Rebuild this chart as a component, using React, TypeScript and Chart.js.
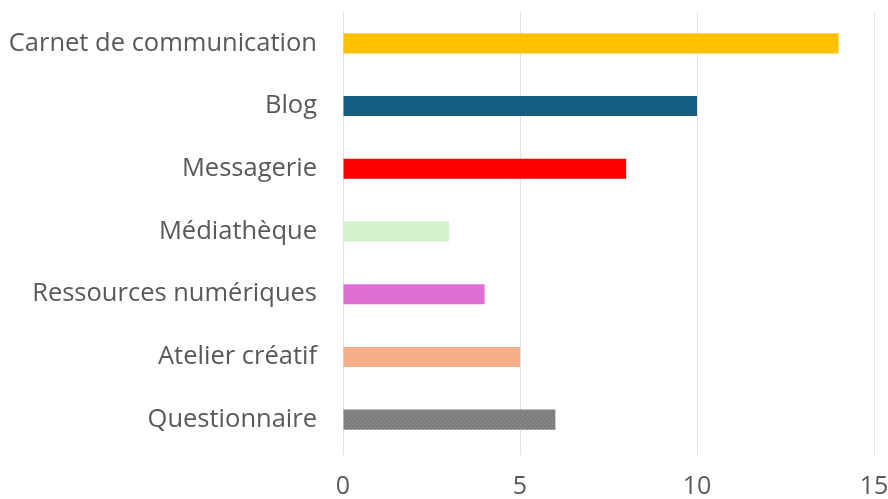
import React, { useEffect, useRef } from "react";
import { Chart, registerables } from "chart.js";

Chart.register(...registerables);

const categories = [
  "Carnet de communication",
  "Blog",
  "Messagerie",
  "Médiathèque",
  "Ressources numériques",
  "Atelier créatif",
  "Questionnaire",
];
const values = [14, 10, 8, 3, 4, 5, 6];
const xTicks = [0, 5, 10, 15];
const barColors = ["#FFC000", "#156082", "#FF0000", "#D6F5CE", "#E06FD4", "#F6AD88", "#7F7F7F"];
const patterned = [false, false, false, true, false, true, true];

function makePattern(base: string): CanvasPattern | string {
  const c = document.createElement("canvas");
  c.width = 4;
  c.height = 4;
  const ctx = c.getContext("2d");
  if (!ctx) return base;
  ctx.fillStyle = base;
  ctx.fillRect(0, 0, 4, 4);
  ctx.fillStyle = "rgba(255,255,255,0.18)";
  ctx.fillRect(0, 0, 1, 1);
  ctx.fillRect(2, 2, 1, 1);
  ctx.fillStyle = "rgba(0,0,0,0.05)";
  ctx.fillRect(2, 0, 1, 1);
  ctx.fillRect(0, 2, 1, 1);
  const p = ctx.createPattern(c, "repeat");
  return p || base;
}

const FONT = "'Open Sans', 'Noto Sans', sans-serif";

export default function App() {
  const ref = useRef<HTMLCanvasElement | null>(null);
  useEffect(() => {
    if (!ref.current) return;
    const fills = barColors.map((col, i) => (patterned[i] ? makePattern(col) : col));
    const chart = new Chart(ref.current, {
      type: "bar",
      data: {
        labels: categories,
        datasets: [
          {
            data: values,
            backgroundColor: fills as any,
            borderWidth: 0,
            barPercentage: 0.32,
            categoryPercentage: 1,
          },
        ],
      },
      options: {
        indexAxis: "y",
        animation: false,
        responsive: false,
        maintainAspectRatio: false,
        layout: { padding: { top: 12, right: 14, left: 0, bottom: 0 } },
        plugins: { legend: { display: false }, tooltip: { enabled: false } },
        scales: {
          x: {
            min: 0,
            max: 15,
            afterBuildTicks: (scale: any) => {
              scale.ticks = xTicks.map((v) => ({ value: v }));
            },
            afterFit: (scale: any) => {
              scale.height = 48;
              scale.paddingLeft = 0;
              scale.paddingRight = 0;
            },
            grid: {
              color: "#E3E3E3",
              lineWidth: 1,
              drawTicks: true,
              tickLength: 4,
            },
            border: { display: false },
            ticks: {
              color: "#595959",
              font: { family: FONT, size: 25 },
              padding: 17,
            },
          },
          y: {
            afterFit: (scale: any) => {
              scale.width = 343;
              scale.paddingTop = 0;
              scale.paddingBottom = 0;
            },
            grid: { display: false, drawTicks: false },
            border: { display: false },
            ticks: {
              color: "#595959",
              font: { family: FONT, size: 25.5 },
              padding: 26,
            },
          },
        },
      },
    });
    return () => chart.destroy();
  }, []);
  return (
    <div style={{ position: "absolute", left: 0, top: 0, width: 888, height: 499, background: "#fff" }}>
      <canvas ref={ref} width={888} height={499} style={{ width: 888, height: 499 }} />
    </div>
  );
}
